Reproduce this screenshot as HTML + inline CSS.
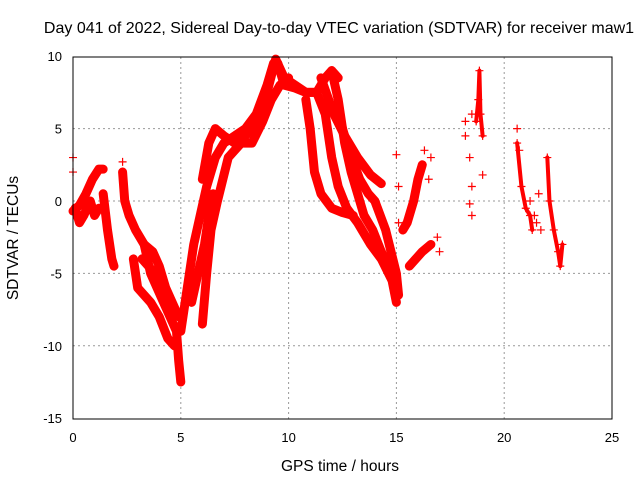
<!DOCTYPE html>
<html><head><meta charset="utf-8"><style>
body{margin:0;background:#fff}
svg text{font-family:"Liberation Sans",sans-serif;font-size:13px;fill:#000}
svg text.big{font-size:15.5px}
svg text.title{font-size:16px}
</style></head><body>
<svg width="640" height="480" id="c">
<text class="title" x="339" y="33" text-anchor="middle">Day 041 of 2022, Sidereal Day-to-day VTEC variation (SDTVAR) for receiver maw1</text>
<text class="big" x="340" y="471" text-anchor="middle">GPS time / hours</text>
<text class="big" transform="translate(18,238) rotate(-90)" text-anchor="middle">SDTVAR / TECUs</text>
<g id="grid"></g><g id="marks"></g>
<rect x="73" y="57" width="539" height="362" fill="none" stroke="#000"/>
</svg>
<script>
const xTicks=[0,5,10,15,20,25];
const yTicks=[-15,-10,-5,0,5,10];
const trackA=[[0,-0.7],[0.3,-0.3],[0.6,0.5],[0.9,1.5],[1.2,2.2],[1.4,2.2]];
const trackA2=[[0.1,-0.5],[0.3,-1.5],[0.5,-1],[0.8,0],[1.0,-1],[1.2,-0.5]];
const trackB=[[1.4,0.5],[1.6,-2],[1.8,-4],[1.9,-4.5]];
const trackC=[[2.3,2],[2.4,0],[2.6,-1],[2.9,-2],[3.3,-3],[3.6,-5],[3.9,-6],[4.2,-7],[4.5,-8],[4.8,-9],[4.9,-11],[5.0,-12.5]];
const trackD=[[2.8,-4],[3.0,-6],[3.3,-6.5],[3.6,-7],[4.0,-8],[4.4,-9.5],[4.7,-10]];
const trackE=[[3.2,-4],[3.5,-4.5],[3.8,-5],[4.1,-5.5],[4.4,-6.5],[4.7,-7.5]];
const trackF=[[5.0,-9],[5.3,-6],[5.6,-3],[5.9,-1],[6.2,1],[6.6,3],[7.0,4],[7.5,4.5],[8.0,5],[8.5,6],[9.0,8],[9.3,9.5],[9.5,9.5],[9.8,8],[10.3,7.8],[10.8,7.5],[11.2,7.5]];
const trackG=[[6.0,1.5],[6.3,4],[6.6,5],[7.0,4.5],[7.5,4],[8.0,4.5],[8.5,5.5],[9.0,7.5],[9.4,9.8],[9.8,8.5],[10.3,8],[10.8,7.5],[11.3,7.5],[11.7,8.5],[12.0,9],[12.3,8.5]];
const trackH=[[6.0,-8.5],[6.2,-5],[6.4,-2],[6.7,0],[7.2,3],[7.8,4],[8.3,4],[8.8,5.5],[9.2,7],[9.6,8],[10.0,8.5]];
const trackI=[[10.8,7],[11.0,5],[11.2,2],[11.5,0.5],[12.0,-0.5],[12.5,-0.8],[13.0,-1]];
const trackJ=[[11.3,7.5],[11.7,6],[12.0,3],[12.3,1],[12.7,-0.5],[13.2,-1.5],[13.8,-3],[14.3,-4],[14.8,-5.5],[15.0,-7]];
const trackK=[[12.0,9],[12.3,7],[12.6,4],[12.9,2],[13.2,0.5],[13.5,-1],[13.9,-2],[14.3,-3.5],[14.8,-5]];
const trackL=[[11.5,8.5],[12.1,6],[12.6,4.5],[13.2,3],[13.8,1.8],[14.3,1.2]];
const trackM=[[12.2,6.5],[12.8,3.5],[13.3,1.5],[13.7,0.5],[14.0,0],[14.5,-2],[15.0,-5],[15.1,-6.5]];
const trackS=[[3.3,-3],[3.7,-3.5],[4.0,-4.5],[4.3,-6],[4.6,-7],[4.9,-8]];
const trackT=[[5.5,-7],[5.8,-5],[6.1,-3],[6.3,-1],[6.5,0.5]];
const trackN=[[15.3,-2],[15.5,-1.5],[15.8,0],[16.0,1.5],[16.2,2.5]];
const trackO=[[15.6,-4.5],[15.9,-4],[16.2,-3.5],[16.6,-3]];
const trackP=[[18.7,5.5],[18.8,7],[18.85,9],[18.9,6],[19.0,4.5]];
const trackQ=[[20.6,4],[20.8,1],[21.0,-0.5],[21.2,-1],[21.3,-2]];
const trackR=[[22.0,3],[22.1,0],[22.3,-2],[22.5,-3.5],[22.6,-4.5],[22.7,-3]];
const scatter=[[15.0,3.2],[15.1,1],[15.1,-1.5],[16.3,3.5],[16.6,3],[16.5,1.5],[16.9,-2.5],[17.0,-3.5],[18.2,4.5],[18.2,5.5],[18.4,3],[18.5,1],[18.5,6],[19.0,1.8],[18.4,-0.2],[18.5,-1],[20.6,5],[20.7,3.5],[21.2,0],[21.4,-1],[21.5,-1.5],[21.7,-2],[21.6,0.5],[0,3],[0,2],[2.3,2.7]];
const tracks=[trackA,trackA2,trackB,trackC,trackD,trackE,trackF,trackG,trackH,trackI,trackJ,trackK,trackL,trackM,trackS,trackT,trackN,trackO,trackP,trackQ,trackR];
const sx=t=>73+t*539/25, sy=v=>201-v*362/25;
const NS='http://www.w3.org/2000/svg';
const grid=document.getElementById('grid'),marks=document.getElementById('marks');
function mk(tag,attrs,parent){const e=document.createElementNS(NS,tag);for(const k in attrs)e.setAttribute(k,attrs[k]);parent.appendChild(e);return e;}
xTicks.forEach(t=>{
  const x=sx(t);
  if(t>0&&t<25){const l=mk('line',{x1:x,y1:57,x2:x,y2:419,stroke:'#999','stroke-dasharray':'2,3'},grid);
  
  }
  const tx=mk('text',{x:x,y:442,'text-anchor':'middle'},grid);tx.textContent=t;
  
  
});
yTicks.forEach(v=>{
  const y=sy(v);
  if(v>-15&&v<10){const l=mk('line',{x1:73,y1:y,x2:612,y2:y,stroke:'#999','stroke-dasharray':'2,3'},grid);
  
  }
  const tx=mk('text',{x:62,y:y+5,'text-anchor':'end'},grid);tx.textContent=v;
  
  
});
function plus(t,v){
  const x=sx(t),y=sy(v);
  const p=mk('path',{d:`M${x-4},${y}h8M${x},${y-4}v8`,stroke:'#f00','stroke-width':1.2},marks);
  
  
}
tracks.forEach((tr,i)=>{
  const sparse=i>=18;
  const pl=mk('polyline',{points:tr.map(p=>sx(p[0])+','+sy(p[1])).join(' '),fill:'none',stroke:'#f00','stroke-width':sparse?4:9,'stroke-linejoin':'round','stroke-linecap':'round'},marks);
  
  
  tr.forEach(p=>plus(p[0],p[1]));
});
scatter.forEach(p=>plus(p[0],p[1]));
</script>
</body></html>
